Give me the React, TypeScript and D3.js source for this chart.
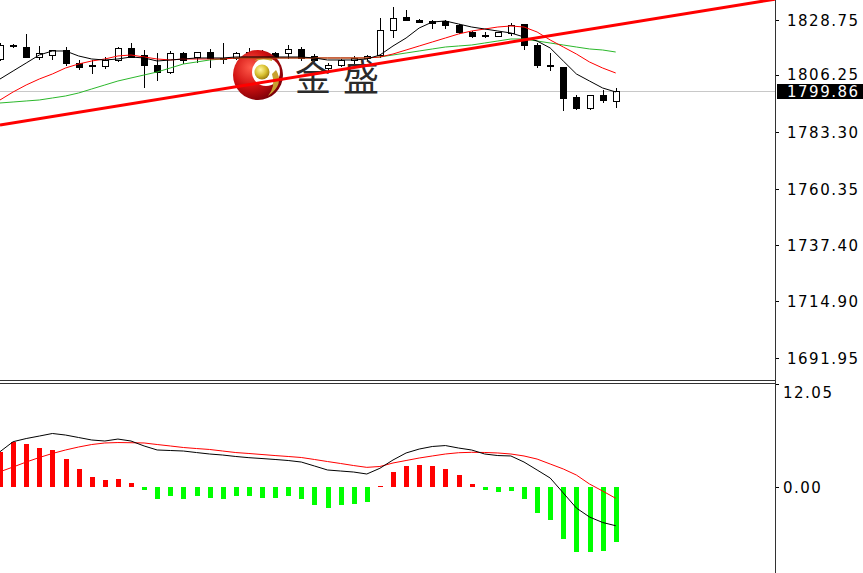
import React from 'react';
import * as d3 from 'd3';

const W = 863;
const H = 573;

const open = [1812.82,1818.48,1817.67,1813.63,1814.44,1816.46,1811.20,1809.99,1809.99,1812.42,1817.27,1814.44,1810.40,1807.57,1815.25,1813.63,1815.65,1813.23,1813.23,1815.65,1813.63,1815.25,1815.25,1816.87,1814.04,1809.18,1810.40,1812.42,1813.23,1814.44,1824.55,1829.81,1828.59,1828.19,1828.19,1826.57,1823.74,1822.53,1822.32,1823.34,1826.98,1818.48,1810.40,1809.59,1797.46,1793.01,1798.26,1795.84];
const high = [1819.29,1818.89,1822.93,1818.08,1816.46,1817.67,1812.42,1812.42,1813.63,1817.67,1819.29,1816.46,1815.25,1816.06,1815.65,1815.65,1816.87,1819.29,1815.65,1817.27,1816.46,1815.65,1818.48,1817.67,1814.84,1811.20,1812.82,1814.04,1814.44,1829.40,1833.85,1832.64,1828.99,1828.59,1828.59,1826.98,1824.14,1823.74,1823.74,1827.38,1826.98,1819.29,1815.25,1809.59,1798.26,1798.26,1800.29,1801.10];
const low = [1812.42,1817.67,1813.63,1812.82,1812.82,1810.40,1808.78,1807.16,1809.18,1812.01,1813.63,1801.50,1804.33,1807.16,1811.20,1811.61,1809.59,1811.20,1812.82,1813.23,1812.42,1813.23,1813.23,1812.42,1812.01,1808.37,1809.99,1811.20,1812.42,1813.63,1821.72,1828.59,1827.78,1825.36,1825.36,1823.34,1821.72,1821.72,1822.12,1822.53,1816.87,1809.59,1808.37,1792.20,1792.60,1792.60,1795.43,1793.41];
const close = [1818.48,1818.08,1813.63,1815.25,1816.46,1811.20,1809.59,1810.40,1812.42,1817.27,1813.63,1810.40,1807.57,1815.25,1812.42,1815.65,1813.23,1813.02,1815.25,1813.63,1815.65,1813.63,1816.87,1813.23,1812.42,1810.40,1812.42,1813.23,1814.04,1824.55,1829.40,1828.59,1827.78,1827.38,1826.57,1823.74,1822.12,1822.32,1823.54,1826.57,1818.48,1810.40,1809.99,1797.05,1793.01,1798.26,1796.24,1799.86];

const maFast = [1804.73,1807.97,1811.20,1814.44,1816.06,1816.06,1814.04,1812.82,1812.42,1812.82,1813.63,1813.23,1812.01,1812.42,1812.82,1813.23,1813.23,1813.23,1813.63,1813.63,1813.63,1813.63,1813.63,1813.63,1813.23,1812.42,1812.42,1812.42,1812.82,1814.44,1818.08,1821.31,1825.36,1827.78,1828.19,1826.98,1825.76,1824.95,1824.14,1823.34,1821.72,1820.10,1817.27,1812.01,1806.76,1803.92,1801.10,1799.48];
const maMid = [1796.24,1799.48,1802.31,1804.73,1806.76,1809.18,1810.80,1812.01,1812.82,1814.04,1814.44,1813.63,1812.82,1812.42,1812.82,1812.82,1812.82,1812.82,1813.23,1813.23,1813.23,1813.23,1813.23,1813.23,1813.23,1813.23,1813.23,1813.23,1813.23,1813.63,1814.84,1816.46,1818.08,1819.70,1821.31,1822.93,1824.14,1824.95,1825.76,1826.17,1825.76,1823.74,1820.51,1817.67,1814.84,1811.61,1809.18,1807.16];
const maSlow = [1795.03,1795.43,1795.84,1796.24,1797.05,1797.86,1799.07,1800.69,1802.31,1803.92,1805.14,1806.35,1807.57,1809.18,1810.80,1811.61,1812.42,1812.82,1813.23,1813.23,1813.23,1813.23,1813.23,1813.23,1813.23,1813.23,1813.23,1813.23,1813.23,1813.63,1814.44,1815.25,1816.06,1816.87,1817.67,1818.08,1818.48,1819.29,1820.10,1820.91,1820.91,1820.10,1819.29,1818.48,1817.67,1816.87,1816.46,1815.65];

const macdHist = [4.1,5.3,5.0,4.6,4.3,3.3,2.1,1.2,0.8,0.9,0.5,-0.4,-1.4,-1.1,-1.4,-1.1,-1.3,-1.4,-1.1,-1.1,-1.3,-1.3,-1.0,-1.4,-2.1,-2.4,-2.1,-2.0,-1.7,0.15,1.7,2.5,2.6,2.5,2.1,1.4,0.4,-0.3,-0.6,-0.45,-1.4,-3.0,-3.9,-6.1,-7.6,-7.6,-7.5,-6.4];
const macdDif = [4.13,5.30,5.67,5.96,6.26,6.08,5.79,5.50,5.38,5.61,5.38,4.80,4.33,4.27,4.21,4.03,3.86,3.74,3.57,3.43,3.33,3.22,3.10,2.92,2.46,1.99,1.87,1.75,1.52,2.19,3.16,3.98,4.44,4.74,4.85,4.56,4.33,3.86,3.68,3.63,2.92,1.99,1.05,-0.70,-2.46,-3.51,-4.15,-4.53];
const macdDea = [1.79,2.34,2.92,3.45,3.92,4.33,4.68,4.97,5.15,5.20,5.18,5.15,4.97,4.80,4.62,4.50,4.39,4.21,4.03,3.92,3.80,3.68,3.57,3.45,3.22,2.98,2.75,2.51,2.30,2.40,2.81,3.10,3.39,3.63,3.86,4.01,4.06,4.04,3.98,3.86,3.63,3.27,2.69,2.11,1.40,0.35,-0.47,-1.32];

const priceTicks = [1828.75, 1806.25, 1783.30, 1760.35, 1737.40, 1714.90, 1691.95];
const macdTicks = [12.05, 0];
const lastPrice = 1799.86;
const trendIdx = [0, 59.24];
const trendPrice = [1786.1, 1837.08];

const PLOT_R = 775;
const TOP_B = 380;
const BOT_T = 384;

const x = d3.scaleLinear().domain([0, 47]).range([0, 615.7]);
const y = d3.scaleLinear().domain([1683.0, 1836.68]).range([TOP_B, 0]);
const ym = d3.scaleLinear().domain([-10.06, 12.05]).range([H, BOT_T]);

const FONT = "'DejaVu Sans', Verdana, sans-serif";

export default function App() {
  const idx = d3.range(open.length);
  const lineP = (arr: number[]) =>
    d3.line<number>().x((i) => x(i)).y((i) => y(arr[i]))(idx) || '';
  const lineM = (arr: number[]) =>
    d3.line<number>().x((i) => x(i)).y((i) => ym(arr[i]))(idx) || '';
  const px = (v: number) => Math.round(v) + 0.5;

  return (
    <svg width={W} height={H} style={{ position: 'fixed', left: 0, top: 0, background: '#fff' }}>
      <defs>
        <clipPath id="topClip"><rect x={0} y={0} width={PLOT_R} height={TOP_B} /></clipPath>
        <clipPath id="botClip"><rect x={0} y={BOT_T} width={PLOT_R} height={H - BOT_T} /></clipPath>
        <radialGradient id="redBall" cx="35%" cy="35%" r="70%">
          <stop offset="0%" stopColor="#ff5a4a" />
          <stop offset="55%" stopColor="#d01010" />
          <stop offset="100%" stopColor="#7a0008" />
        </radialGradient>
        <radialGradient id="goldBall" cx="40%" cy="35%" r="65%">
          <stop offset="0%" stopColor="#fff6a0" />
          <stop offset="60%" stopColor="#d8c030" />
          <stop offset="100%" stopColor="#a08010" />
        </radialGradient>
      </defs>
      <rect x={0} y={0} width={W} height={H} fill="#fff" />

      <g clipPath="url(#topClip)">
        <line x1={0} x2={PLOT_R} y1={px(y(lastPrice))} y2={px(y(lastPrice))} stroke="#c8c8c8" strokeWidth={1} />
        {idx.map((i) => {
          const cx = Math.round(x(i));
          const o = y(open[i]);
          const c = y(close[i]);
          const top = Math.round(Math.min(o, c));
          const bot = Math.round(Math.max(o, c));
          const bull = close[i] >= open[i];
          return (
            <g key={i}>
              <line x1={cx + 0.5} x2={cx + 0.5} y1={Math.round(y(high[i]))} y2={Math.round(y(low[i])) + 1} stroke="#000" strokeWidth={1} />
              {bot - top < 1 ? (
                <line x1={cx - 3} x2={cx + 4} y1={top + 0.5} y2={top + 0.5} stroke="#000" strokeWidth={1} />
              ) : (
                <rect x={cx - 3 + 0.5} y={top + 0.5} width={6} height={bot - top} fill={bull ? '#fff' : '#000'} stroke="#000" strokeWidth={1} />
              )}
            </g>
          );
        })}
        {/* logo */}
        <g>
          <circle cx={258} cy={75} r={25} fill="url(#redBall)" />
          <circle cx={266} cy={72} r={14} fill="#fff" />
          <path d="M 272 59 Q 262 55 254 61 Q 264 58 272 61 Z" fill="#c8a838" />
          <path d="M 276 70 Q 285 84 268 96 Q 276 86 272 74 Z" fill="#c8a030" />
          <circle cx={262} cy={72} r={7.5} fill="url(#goldBall)" />
          <text x={313} y={91} textAnchor="middle" fontSize={36} fill="#2b2b2b" fontFamily="'Noto Sans CJK SC', sans-serif">金</text>
          <text x={361} y={91} textAnchor="middle" fontSize={36} fill="#2b2b2b" fontFamily="'Noto Sans CJK SC', sans-serif">盛</text>
        </g>
        <path d={lineP(maSlow)} fill="none" stroke="#2cb82c" strokeWidth={1} />
        <path d={lineP(maMid)} fill="none" stroke="#ff0000" strokeWidth={1} />
        <path d={lineP(maFast)} fill="none" stroke="#000" strokeWidth={1} />
        <line x1={x(trendIdx[0])} y1={y(trendPrice[0])} x2={x(trendIdx[1])} y2={y(trendPrice[1])} stroke="#ff0000" strokeWidth={3} />
      </g>

      <g clipPath="url(#botClip)">
        {idx.map((i) => {
          const cx = Math.round(x(i));
          const v = macdHist[i];
          const y0 = Math.round(ym(0));
          const y1 = Math.round(ym(v));
          const t = Math.min(y0, y1);
          const h = Math.max(1, Math.abs(y1 - y0));
          return <rect key={i} x={cx - 2} y={t} width={5} height={h} fill={v >= 0 ? '#ff0000' : '#00ff00'} />;
        })}
        <path d={lineM(macdDea)} fill="none" stroke="#ff0000" strokeWidth={1} />
        <path d={lineM(macdDif)} fill="none" stroke="#000" strokeWidth={1} />
      </g>

      {/* frames */}
      <line x1={0} x2={PLOT_R} y1={TOP_B + 0.5} y2={TOP_B + 0.5} stroke="#333" strokeWidth={1} />
      <line x1={0} x2={PLOT_R} y1={BOT_T - 0.5} y2={BOT_T - 0.5} stroke="#333" strokeWidth={1} />
      <line x1={PLOT_R + 0.5} x2={PLOT_R + 0.5} y1={0} y2={H} stroke="#333" strokeWidth={1} />

      {/* price axis */}
      {priceTicks.map((p) => (
        <g key={p}>
          <line x1={PLOT_R + 1} x2={PLOT_R + 4} y1={px(y(p))} y2={px(y(p))} stroke="#000" />
          <text x={787} y={y(p) + (p === 1806.25 ? 0 : 1)} dominantBaseline="central" fontSize={15} letterSpacing={1.5} fill="#000" fontFamily={FONT}>
            {p.toFixed(2)}
          </text>
        </g>
      ))}
      <rect x={777} y={Math.round(y(lastPrice)) - 7} width={86} height={15} fill="#000" />
      <text x={787} y={y(lastPrice) + 0.5} dominantBaseline="central" fontSize={15} letterSpacing={1.5} fill="#fff" fontFamily={FONT}>
        {lastPrice.toFixed(2)}
      </text>

      {/* macd axis */}
      {macdTicks.map((v, k) => (
        <g key={v}>
          <line x1={PLOT_R + 1} x2={PLOT_R + 4} y1={px(ym(v))} y2={px(ym(v))} stroke="#000" />
          <text x={783} y={ym(v) + (k === 0 ? 9 : 0.5)} dominantBaseline="central" fontSize={15} letterSpacing={1.5} fill="#000" fontFamily={FONT}>
            {v.toFixed(2)}
          </text>
        </g>
      ))}
    </svg>
  );
}
